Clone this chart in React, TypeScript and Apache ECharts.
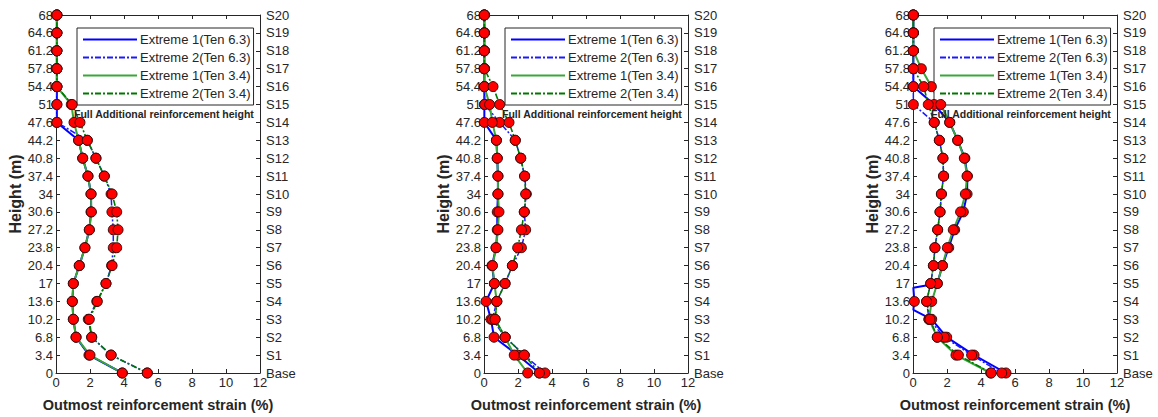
import React, { useEffect, useRef } from "react";
import * as echarts from "echarts";

// ---------- data ----------
const STEP = 3.4;
const heights = [0, 3.4, 6.8, 10.2, 13.6, 17, 20.4, 23.8, 27.2, 30.6, 34, 37.4, 40.8, 44.2, 47.6, 51, 54.4, 57.8, 61.2, 64.6, 68];
const heightLabels = ["0", "3.4", "6.8", "10.2", "13.6", "17", "20.4", "23.8", "27.2", "30.6", "34", "37.4", "40.8", "44.2", "47.6", "51", "54.4", "57.8", "61.2", "64.6", "68"];
const stationLabels = ["Base", "S1", "S2", "S3", "S4", "S5", "S6", "S7", "S8", "S9", "S10", "S11", "S12", "S13", "S14", "S15", "S16", "S17", "S18", "S19", "S20"];
const strainTicks = [0, 2, 4, 6, 8, 10, 12];

const seriesNames = ["Extreme 1(Ten 6.3)", "Extreme 2(Ten 6.3)", "Extreme 1(Ten 3.4)", "Extreme 2(Ten 3.4)"];
const annotation = "Full Additional reinforcement height";
const xTitle = "Outmost reinforcement strain (%)";
const yTitle = "Height (m)";

// Panel 1 (values from base to S20)
const p1Blue1 = [3.9, 1.94, 1.18, 1.02, 0.96, 1.02, 1.37, 1.7, 1.96, 2.06, 2.06, 1.88, 1.57, 1.33, 0.05, 0.05, 0.05, 0.05, 0.05, 0.05, 0.05];
const p1Blue2 = [5.37, 3.24, 2.1, 1.9, 2.4, 2.94, 3.27, 3.37, 3.37, 3.29, 3.24, 2.84, 2.35, 1.84, 0.05, 0.05, 0.05, 0.05, 0.05, 0.05, 0.05];
const p1Green1 = [3.9, 2.0, 1.18, 1.02, 0.96, 1.02, 1.37, 1.7, 1.96, 2.08, 2.06, 1.88, 1.57, 1.33, 1.06, 0.9, 0.05, 0.05, 0.05, 0.05, 0.05];
const p1Green2 = [5.37, 3.24, 2.1, 1.96, 2.43, 2.94, 3.3, 3.57, 3.65, 3.57, 3.3, 2.84, 2.35, 1.84, 1.41, 0.95, 0.05, 0.05, 0.05, 0.05, 0.05];

// Panel 2
const p2Blue1 = [3.26, 1.98, 0.59, 0.41, 0.12, 0.61, 0.47, 0.71, 0.78, 0.78, 0.82, 0.82, 0.78, 0.73, 0.02, 0.02, 0.02, 0.02, 0.02, 0.02, 0.02];
const p2Blue2 = [3.59, 2.37, 1.24, 0.5, 0.75, 1.24, 1.67, 2.2, 2.45, 2.37, 2.49, 2.39, 2.16, 1.84, 0.92, 0.04, 0.02, 0.02, 0.02, 0.02, 0.02];
const p2Green1 = [2.57, 1.78, 1.24, 0.65, 0.75, 0.61, 0.5, 0.71, 0.82, 0.88, 0.82, 0.82, 0.78, 0.73, 0.49, 0.33, 0.02, 0.02, 0.02, 0.02, 0.02];
const p2Green2 = [3.26, 2.37, 1.24, 0.65, 0.75, 1.24, 1.67, 1.98, 2.2, 2.37, 2.45, 2.39, 2.16, 1.84, 1.47, 0.92, 0.53, 0.02, 0.02, 0.02, 0.02];

// Panel 3
const p3Blue1 = [5.47, 3.59, 1.98, 1.1, 0.08, 1.43, 1.73, 2.1, 2.45, 2.96, 3.18, 3.2, 3.05, 2.63, 2.16, 1.24, 0.02, 0.02, 0.02, 0.02, 0.02];
const p3Blue1Kinks = [[0.02, 16.2], [0.02, 12.0]];
const p3Blue2 = [5.22, 3.45, 1.84, 0.94, 0.8, 1.04, 1.2, 1.29, 1.45, 1.59, 1.67, 1.8, 1.76, 1.55, 1.25, 0.02, 0.02, 0.02, 0.02, 0.02, 0.02];
const p3Green1 = [4.57, 2.53, 1.43, 0.94, 1.1, 1.43, 1.73, 2.02, 2.37, 2.8, 3.08, 3.18, 3.02, 2.63, 2.16, 1.63, 1.08, 0.49, 0.02, 0.02, 0.02];
const p3Green2 = [4.6, 2.67, 1.43, 1.0, 0.8, 1.04, 1.2, 1.29, 1.45, 1.59, 1.67, 1.8, 1.76, 1.55, 1.25, 0.9, 0.63, 0.02, 0.02, 0.02, 0.02];

const panels = [
  { values: [p1Blue1, p1Blue2, p1Green1, p1Green2], kinks: [[], [], [], []] },
  { values: [p2Blue1, p2Blue2, p2Green1, p2Green2], kinks: [[], [], [], []] },
  { values: [p3Blue1, p3Blue2, p3Green1, p3Green2], kinks: [p3Blue1Kinks, [], [], []] },
];

// ---------- styles ----------
const FONT = "Liberation Sans, Arial, Helvetica, sans-serif";
const INK = "#262626";
const gridLefts = [56, 484, 913];
const GRID_TOP = 15;
const GRID_W = 204;
const GRID_H = 358;
const lineStyles = [
  { color: "#0000ff", width: 2, type: "solid" },
  { color: "#1a1aff", width: 1.5, type: [6, 2, 2, 2] },
  { color: "#3aa53a", width: 2, type: "solid" },
  { color: "#007800", width: 1.6, type: [6, 2, 2, 2] },
];

function stationPoints(vals: number[]) {
  return vals.map((v, i) => [v, heights[i]]);
}
function linePoints(vals: number[], kinks: number[][]) {
  return [...stationPoints(vals), ...kinks].sort((a, b) => a[1] - b[1]);
}

function buildOption() {
  const grid: any[] = [];
  const xAxis: any[] = [];
  const yAxis: any[] = [];
  const series: any[] = [];
  const legend: any[] = [];
  const graphic: any[] = [];

  const axisLine = { show: true, onZero: false, lineStyle: { color: INK, width: 1 } };
  const tickX = { show: true, inside: true, length: 4, lineStyle: { color: INK } };

  panels.forEach((p, i) => {
    const left = gridLefts[i];
    grid.push({ left, top: GRID_TOP, width: GRID_W, height: GRID_H, containLabel: false, outerBoundsMode: "none" });
    xAxis.push({
      type: "value", gridIndex: i, position: "bottom", min: strainTicks[0], max: strainTicks[strainTicks.length - 1], interval: 2,
      axisLine, axisTick: tickX, splitLine: { show: false },
      axisLabel: { color: INK, fontSize: 13, fontFamily: FONT, margin: 3 },
      name: xTitle, nameLocation: "middle", nameGap: 24,
      nameTextStyle: { color: INK, fontSize: 14.5, fontWeight: "bold", fontFamily: FONT },
    });
    xAxis.push({
      type: "value", gridIndex: i, position: "top", min: strainTicks[0], max: strainTicks[strainTicks.length - 1], interval: 2,
      axisLine, axisTick: tickX, splitLine: { show: false }, axisLabel: { show: false },
    });
    yAxis.push({
      type: "value", gridIndex: i, position: "left", min: 0, max: heights[heights.length - 1], interval: STEP,
      axisLine, axisTick: tickX, splitLine: { show: false },
      axisLabel: { color: INK, fontSize: 13, fontFamily: FONT, margin: 3, formatter: (v: number) => heightLabels[Math.round(v / STEP)] ?? "" },
      name: yTitle, nameLocation: "middle", nameGap: 32, nameRotate: 90,
      nameTextStyle: { color: INK, fontSize: 16, fontWeight: "bold", fontFamily: FONT },
    });
    yAxis.push({
      type: "value", gridIndex: i, position: "right", min: 0, max: heights[heights.length - 1], interval: STEP,
      axisLine, axisTick: tickX, splitLine: { show: false },
      axisLabel: { color: INK, fontSize: 13, fontFamily: FONT, margin: 6, formatter: (v: number) => stationLabels[Math.round(v / STEP)] ?? "" },
    });

    p.values.forEach((vals, k) => {
      series.push({
        type: "line", name: seriesNames[k], xAxisIndex: 2 * i, yAxisIndex: 2 * i,
        data: linePoints(vals, p.kinks[k]), symbol: "none", z: 2 + k * 0.01,
        lineStyle: lineStyles[k], itemStyle: { color: lineStyles[k].color },
      });
    });
    p.values.forEach((vals, k) => {
      series.push({
        type: "scatter", name: "marker" + i + k, xAxisIndex: 2 * i, yAxisIndex: 2 * i,
        data: stationPoints(vals), symbol: "circle", symbolSize: 10, z: 5,
        itemStyle: { color: "#ff0000", borderColor: "#3a0a0a", borderWidth: 1, opacity: 1 },
      });
    });

    legend.push({
      data: seriesNames, orient: "vertical", left: left + 21, top: 28,
      backgroundColor: "#ffffff", borderColor: INK, borderWidth: 1, borderRadius: 0,
      padding: [5, 3, 5, 5], itemWidth: 54, itemHeight: 12, itemGap: 5,
      itemStyle: { opacity: 0 },
      textStyle: { color: INK, fontSize: 13, fontFamily: FONT, padding: [0, 0, 0, -2] },
      selectedMode: false,
    });

    graphic.push({
      type: "text", left: left + 18, top: 108, z: 10,
      style: { text: annotation, fill: INK, fontSize: 10.5, fontWeight: "bold", fontFamily: FONT },
    });
  });

  return { animation: false, backgroundColor: "#ffffff", grid, xAxis, yAxis, series, legend, graphic };
}

export default function App() {
  const ref = useRef<HTMLDivElement>(null);
  useEffect(() => {
    if (!ref.current) return;
    const chart = echarts.init(ref.current, undefined, { renderer: "svg" });
    chart.setOption(buildOption() as any);
    return () => chart.dispose();
  }, []);
  return <div ref={ref} style={{ position: "absolute", left: 0, top: 0, width: 1158, height: 417 }} />;
}
